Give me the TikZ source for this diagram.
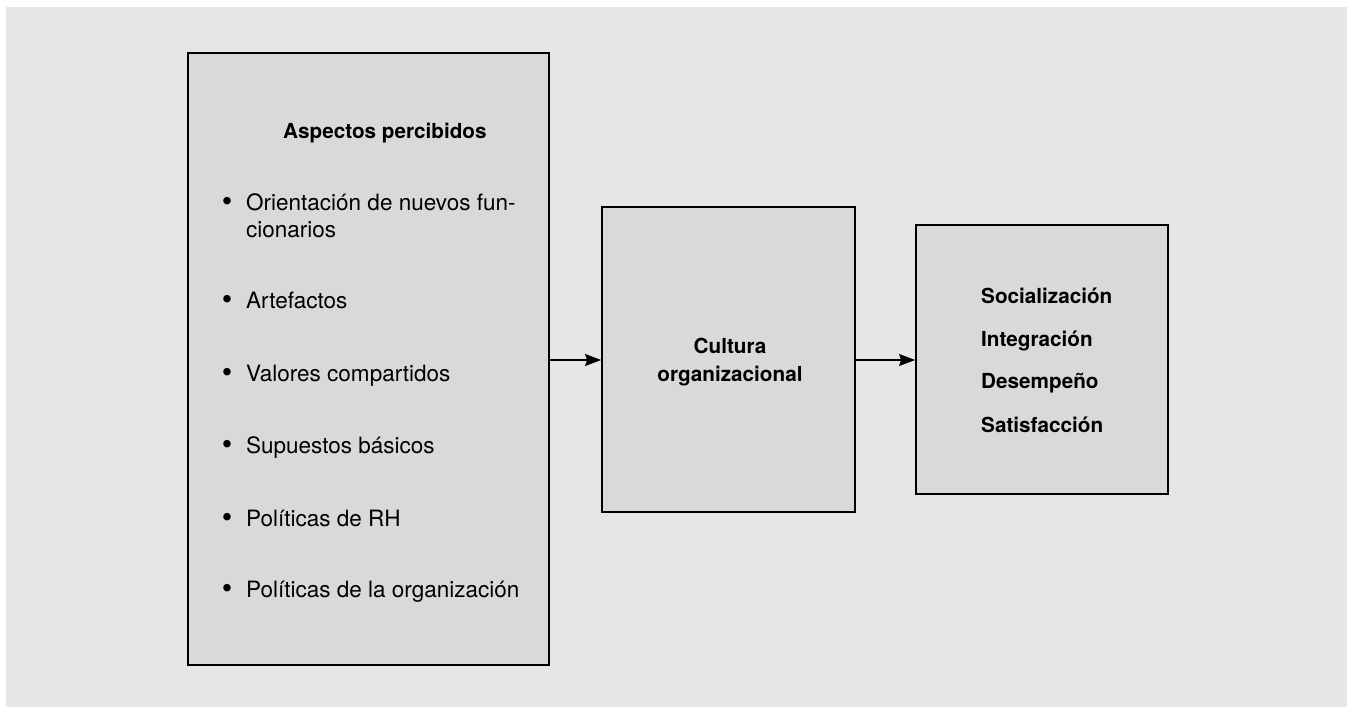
\documentclass[tikz,border=0pt]{standalone}
\usepackage{fontspec}
\setmainfont{TeX Gyre Heros}
\usetikzlibrary{arrows.meta}
\definecolor{bggray}{HTML}{E6E6E6}
\definecolor{boxgray}{HTML}{D9D9D9}
\tikzset{
  panel/.style={draw=black, line width=1.8pt, fill=boxgray, inner sep=0pt},
  regtext/.style={anchor=base west, inner sep=0pt, font=\fontsize{22.5}{27}\selectfont},
  boldtext/.style={anchor=base west, inner sep=0pt, font=\fontsize{20.7}{27}\selectfont\bfseries},
  bulletmark/.style={anchor=base, inner sep=0pt, yshift=-1pt, font=\fontsize{30}{30}\selectfont},
  flow/.style={line width=1.2pt, -{Stealth[length=16pt,width=12pt,inset=2pt]}}
}
\begin{document}
\begin{tikzpicture}[x=1pt,y=-1pt]
\useasboundingbox (0,0) rectangle (1347,707);
\fill[bggray] (6,7) rectangle (1347,707);
% boxes
\node[panel, minimum width=361pt, minimum height=612pt] (left) at (368.5,359) {};
\node[panel, minimum width=253pt, minimum height=305pt] (mid) at (728.5,359.5) {};
\node[panel, minimum width=252pt, minimum height=269pt] (right) at (1042,359.5) {};
% left texts
\node[boldtext] (title) at (283,138) {Aspectos percibidos};
\node[bulletmark] (b1) at (227,210) {\textbullet};
\node[regtext] (i1a) at (246,210) {Orientación de nuevos fun-};
\node[regtext] (i1b) at (246,237) {cionarios};
\node[bulletmark] (b2) at (227,308) {\textbullet};
\node[regtext] (i2) at (246,308) {Artefactos};
\node[bulletmark] (b3) at (227,381) {\textbullet};
\node[regtext] (i3) at (246,381) {Valores compartidos};
\node[bulletmark] (b4) at (227,453) {\textbullet};
\node[regtext] (i4) at (246,453) {Supuestos básicos};
\node[bulletmark] (b5) at (227,526) {\textbullet};
\node[regtext] (i5) at (246,526) {Políticas de RH};
\node[bulletmark] (b6) at (227,597) {\textbullet};
\node[regtext] (i6) at (246,597) {Políticas de la organización};
% middle texts
\node[boldtext, anchor=base] (m1) at (730,353) {Cultura};
\node[boldtext, anchor=base] (m2) at (730,381) {organizacional};
% right texts
\node[boldtext] (r1) at (981,303) {Socialización};
\node[boldtext] (r2) at (981,346) {Integración};
\node[boldtext] (r3) at (981,388) {Desempeño};
\node[boldtext] (r4) at (981,432) {Satisfacción};
% arrows
\draw[flow] (left.east |- 0,360) -- (mid.west |- 0,360);
\draw[flow] (mid.east |- 0,360) -- (right.west |- 0,360);
\end{tikzpicture}
\end{document}
